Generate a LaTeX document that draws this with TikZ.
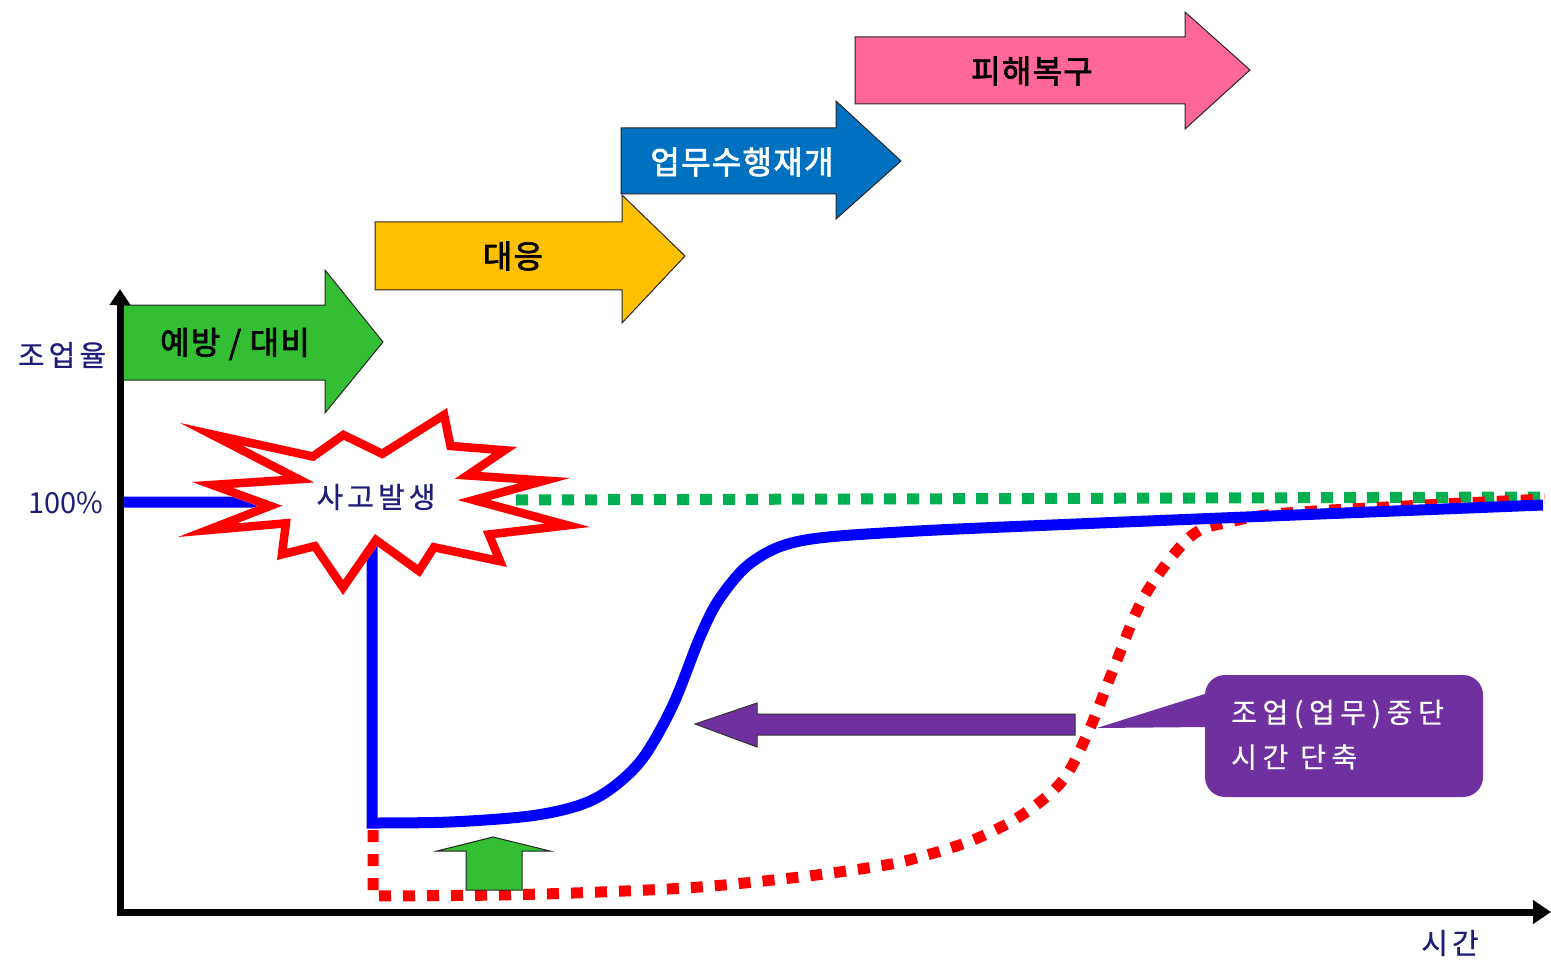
\documentclass[tikz,border=0pt]{standalone}
\usepackage{fontspec}
\setmainfont{Noto Sans CJK KR}
\newfontfamily\krb[FakeBold=2.2, LetterSpace=4]{Noto Sans CJK KR}
\newfontfamily\krs[FakeBold=0.6, LetterSpace=14]{Noto Sans CJK KR}
\newfontfamily\krc[FakeBold=0.4, LetterSpace=20]{Noto Sans CJK KR}
\usetikzlibrary{arrows.meta}
\definecolor{phgreen}{RGB}{51,190,51}
\definecolor{phyellow}{RGB}{255,192,0}
\definecolor{phblue}{RGB}{0,112,192}
\definecolor{phpink}{RGB}{255,102,153}
\definecolor{purp}{RGB}{112,48,160}
\definecolor{lineblue}{RGB}{0,0,255}
\definecolor{linered}{RGB}{255,0,0}
\definecolor{dotgreen}{RGB}{0,176,80}
\definecolor{navy}{RGB}{30,30,120}
\tikzset{
  phase/.style={draw=black!85, line width=1pt, line join=miter},
  phasetext/.style={font=\krb\fontsize{32}{38}\selectfont, inner sep=0pt},
  axislabel/.style={font=\krs\fontsize{29}{34}\selectfont, text=navy, inner sep=0pt},
  calltext/.style={font=\krc\fontsize{28}{34}\selectfont, text=white, inner sep=0pt, anchor=west},
  axisline/.style={line width=7pt, black},
}
\def\starpath{(180,423) -- (312,452) -- (343,430) -- (382,449) -- (447,408) -- (454,442) -- (517,447) -- (480,472)
  -- (570,478) -- (490,500) -- (590,527) -- (495,538) -- (507,567) -- (436,552) -- (420,577)
  -- (377,546) -- (343,595) -- (313,551) -- (277,560) -- (281,528) -- (178,537) -- (258,506)
  -- (192,482) -- (283,476) -- cycle}
\begin{document}
\begin{tikzpicture}[x=1pt,y=-1pt]
\useasboundingbox (0,0) rectangle (1551,960);

% phase arrows
\draw[phase, fill=phgreen] (120,305) -- (325,305) -- (325,270) -- (383,342) -- (325,413) -- (325,380) -- (120,380) -- cycle;
\node[phasetext] (p1) at (235,344) {예방 / 대비};
\draw[phase, fill=phyellow] (375,222) -- (622,222) -- (622,195) -- (685,256) -- (622,323) -- (622,290) -- (375,290) -- cycle;
\node[phasetext] (p2) at (513,256) {대응};
\draw[phase, fill=phblue] (621,128) -- (836,128) -- (836,101) -- (901,161) -- (836,219) -- (836,194) -- (621,194) -- cycle;
\node[phasetext, text=white] (p3) at (742,162) {업무수행재개};
\draw[phase, fill=phpink] (855,37) -- (1185,37) -- (1185,12) -- (1250,70) -- (1185,129) -- (1185,104) -- (855,104) -- cycle;
\node[phasetext] (p4) at (1032,71) {피해복구};

% green dotted 100% line
\draw[dotgreen, line width=11pt, dash pattern=on 12pt off 11pt] (516,500) -- (1545,497);

% red dotted curve
\draw[linered, line width=11pt, dash pattern=on 12pt off 12pt]
  (373,830) -- (373,896) -- plot[smooth, tension=0.55] coordinates {(373,896) (500,895) (600,892) (700,887) (800,877) (880,866) (920,857) (973,840) (1022,815) (1063,780) (1090,728) (1115,665) (1145,595) (1190,537) (1230,522) (1300,512) (1545,499)};

% blue curve
\draw[lineblue, line width=11pt, line join=miter]
  (120,502) -- (372,502) -- (372,823) -- plot[smooth, tension=0.55] coordinates {(372,823) (450,822) (530,816) (580,805) (612,788) (643,758) (673,705) (700,637) (720,598) (752,562) (800,541) (900,532) (1100,523) (1543,505)};

% starburst
\fill[white] \starpath;
\begin{scope}
\clip \starpath;
\draw[linered, line width=17pt, line join=miter, miter limit=50] \starpath;
\end{scope}
\node[axislabel] (acc) at (376,497) {사고발생};

% purple arrow
\draw[fill=purp, draw=black!80, line width=1pt] (695,724) -- (757,703) -- (757,714) -- (1075,714) -- (1075,735) -- (757,735) -- (757,747) -- cycle;

% callout
\fill[purp, rounded corners=20pt] (1205,675) rectangle (1483,797);
\fill[purp] (1097,728) -- (1208,693) -- (1208,727) -- cycle;
\node[calltext] (c1) at (1231,714) {조업(업무)중단};
\node[calltext] (c2) at (1231,757) {시간 단축};

% green up arrow
\draw[fill=phgreen, draw=black!85, line width=1pt] (466,890) -- (466,851) -- (437,851) -- (493,837) -- (550,851) -- (522,851) -- (522,890) -- cycle;

% axes
\coordinate (o) at (120,912);
\coordinate (ytop) at (120,289);
\coordinate (xend) at (1551,912);
\draw[axisline, -{Triangle[length=16pt,width=20pt]}] (120,915) -- (ytop);
\draw[axisline, -{Triangle[length=18pt,width=23pt]}] (117,912) -- (xend);

% axis labels
\node[axislabel] (yl) at (62,355) {조업율};
\node[axislabel, font=\fontsize{29}{34}\selectfont] (pc) at (66,503) {100\%};
\node[axislabel] (xl) at (1450,943) {시간};
\end{tikzpicture}
\end{document}
